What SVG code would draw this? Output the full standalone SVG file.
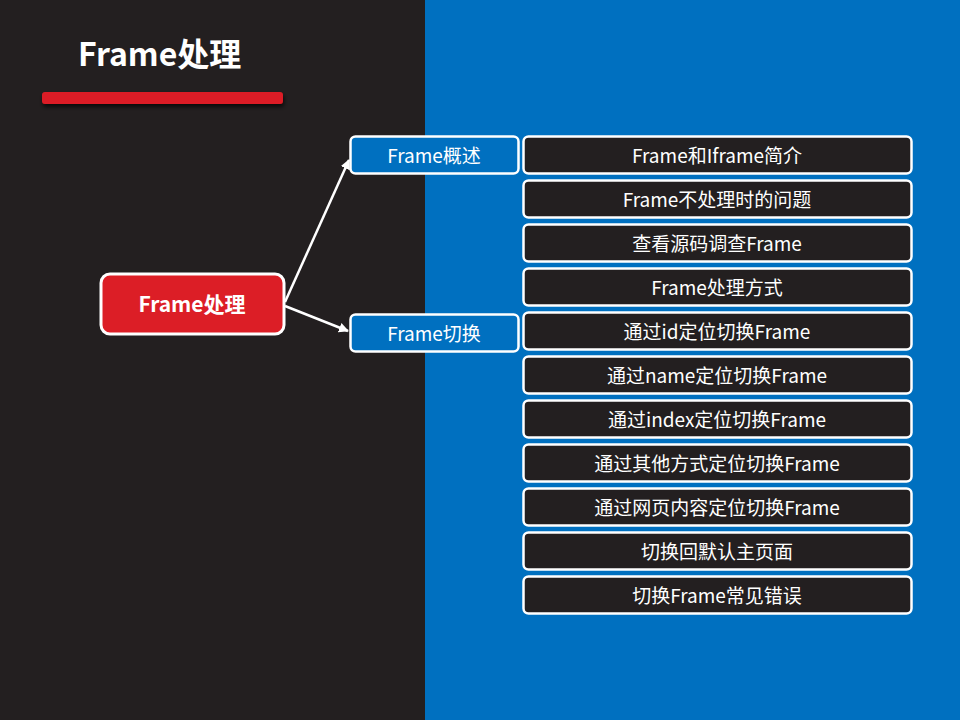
<svg xmlns="http://www.w3.org/2000/svg" width="960" height="720" viewBox="0 0 960 720">
<style>
.t{font-family:"Noto Sans CJK SC","Open Sans",sans-serif;fill:#fff;text-anchor:middle;dominant-baseline:central}
.item rect{fill:#231F20;stroke:#fff;stroke-width:2.5}
.item text{font-size:19px}
.sub rect{fill:#0070C0;stroke:#fff;stroke-width:2.5}
.sub text{font-size:19px}
.conn line{stroke:#fff;stroke-width:2.5}
</style>
<defs>
<marker id="ah" viewBox="0 0 10 10" refX="9" refY="5" markerWidth="4" markerHeight="4" orient="auto"><path d="M0,0 L10,5 L0,10 z" fill="#fff"/></marker>
<filter id="sh" x="-10%" y="-50%" width="120%" height="250%"><feDropShadow dx="1" dy="3" stdDeviation="2" flood-color="#000" flood-opacity="0.7"/></filter>
</defs>
<rect x="0" y="0" width="960" height="720" fill="#231F20"/>
<rect x="425" y="0" width="535" height="720" fill="#0070C0"/>
<g id="title">
<text class="t" x="78" y="66" style="text-anchor:start;dominant-baseline:auto;font-size:32px;font-weight:bold">Frame处理</text>
<rect x="42" y="92" width="241" height="12" rx="3" fill="#DC1E26" filter="url(#sh)"/>
</g>
<g class="conn">
<line x1="285" y1="302" x2="349" y2="160" marker-end="url(#ah)"/>
<line x1="285" y1="306" x2="348" y2="331" marker-end="url(#ah)"/>
</g>
<g id="root"><rect x="101" y="274" width="183" height="60" rx="9" fill="#DC1E26" stroke="#fff" stroke-width="3"/><text class="t" x="192" y="303" style="font-size:21px;font-weight:bold">Frame处理</text></g>
<g id="sub1" class="sub"><rect x="350.5" y="136.5" width="168" height="37" rx="5"/><text class="t" x="434" y="154">Frame概述</text></g>
<g id="sub2" class="sub"><rect x="350.5" y="314.5" width="168" height="37" rx="5"/><text class="t" x="434" y="332">Frame切换</text></g>
<g id="i1" class="item"><rect x="523.5" y="136.5" width="388" height="37" rx="5"/><text class="t" x="717" y="154">Frame和Iframe简介</text></g>
<g id="i2" class="item"><rect x="523.5" y="180.5" width="388" height="37" rx="5"/><text class="t" x="717" y="198">Frame不处理时的问题</text></g>
<g id="i3" class="item"><rect x="523.5" y="224.5" width="388" height="37" rx="5"/><text class="t" x="717" y="242">查看源码调查Frame</text></g>
<g id="i4" class="item"><rect x="523.5" y="268.5" width="388" height="37" rx="5"/><text class="t" x="717" y="286">Frame处理方式</text></g>
<g id="i5" class="item"><rect x="523.5" y="312.5" width="388" height="37" rx="5"/><text class="t" x="717" y="330">通过id定位切换Frame</text></g>
<g id="i6" class="item"><rect x="523.5" y="356.5" width="388" height="37" rx="5"/><text class="t" x="717" y="374">通过name定位切换Frame</text></g>
<g id="i7" class="item"><rect x="523.5" y="400.5" width="388" height="37" rx="5"/><text class="t" x="717" y="418">通过index定位切换Frame</text></g>
<g id="i8" class="item"><rect x="523.5" y="444.5" width="388" height="37" rx="5"/><text class="t" x="717" y="462">通过其他方式定位切换Frame</text></g>
<g id="i9" class="item"><rect x="523.5" y="488.5" width="388" height="37" rx="5"/><text class="t" x="717" y="506">通过网页内容定位切换Frame</text></g>
<g id="i10" class="item"><rect x="523.5" y="532.5" width="388" height="37" rx="5"/><text class="t" x="717" y="550">切换回默认主页面</text></g>
<g id="i11" class="item"><rect x="523.5" y="576.5" width="388" height="37" rx="5"/><text class="t" x="717" y="594">切换Frame常见错误</text></g>
</svg>
